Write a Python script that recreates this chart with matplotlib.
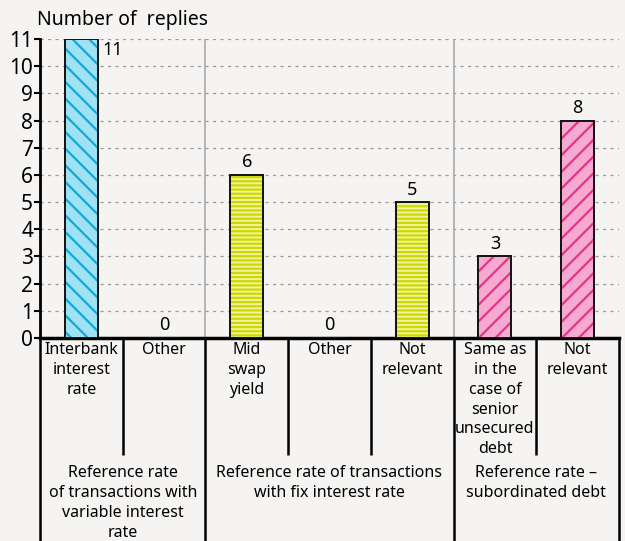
import matplotlib
matplotlib.use("Agg")
import matplotlib.pyplot as plt
from matplotlib.transforms import blended_transform_factory

plt.rcParams['font.family'] = ['Noto Sans', 'DejaVu Sans']

categories = ["Interbank\ninterest\nrate", "Other", "Mid\nswap\nyield", "Other",
              "Not\nrelevant", "Same as\nin the\ncase of\nsenior\nunsecured\ndebt", "Not\nrelevant"]
values = [11, 0, 6, 0, 5, 3, 8]
groups = ["Reference rate\nof transactions with\nvariable interest\nrate",
          "Reference rate of transactions\nwith fix interest rate",
          "Reference rate \u2013\nsubordinated debt"]
group_members = [[0, 1], [2, 3, 4], [5, 6]]
yticks = list(range(0, 12))

fills = ["#9ee2f4", "#9ee2f4", "#eff49e", "#eff49e", "#eff49e", "#f6aad0", "#f6aad0"]
hatch_cols = ["#12a8d8", "#12a8d8", "#cdd900", "#cdd900", "#cdd900", "#e4358b", "#e4358b"]
hatches = ["\\\\", "\\\\", "----", "----", "----", "//", "//"]

bg = "#f5f4f2"
W, H = 625, 541
fig = plt.figure(figsize=(W/100, H/100), dpi=100, facecolor=bg)
ax = fig.add_axes([40/W, 1-338/H, (619-40)/W, (338-39)/H], facecolor=bg)

plt.rcParams['hatch.linewidth'] = 1.6
for i, v in enumerate(values):
    ax.bar(i, v, width=0.4, color=fills[i], edgecolor=hatch_cols[i], hatch=hatches[i],
           linewidth=0, zorder=3)
    ax.bar(i, v, width=0.4, color='none', edgecolor='#111111', linewidth=1.4, zorder=4)

ax.set_xlim(-0.5, len(values)-0.5)
ax.set_ylim(0, 11)
ax.set_yticks(yticks)
ax.set_yticklabels([str(t) for t in yticks], fontsize=15)
ax.tick_params(axis='y', length=4, width=1.5, pad=1)
ax.set_xticks([])
for s in ['top', 'right']:
    ax.spines[s].set_visible(False)
ax.spines['left'].set_linewidth(2)
ax.spines['bottom'].set_linewidth(2.5)
ax.yaxis.grid(True, color='#9a9a9a', linestyle=(0, (2.5, 3.5)), linewidth=0.9)
ax.set_axisbelow(True)

# group separators inside plot
for g in group_members[1:]:
    ax.axvline(g[0]-0.5, color='#aaaaaa', linewidth=1.2, zorder=1)

# value labels
for i, v in enumerate(values):
    if v == 11:
        ax.annotate(str(v), (i+0.2, v), xytext=(3, -8), textcoords='offset points',
                    ha='left', va='center', fontsize=13, zorder=5)
    else:
        ax.annotate(str(v), (i, v), xytext=(0, 9), textcoords='offset points',
                    ha='center', va='center', fontsize=13, zorder=5)

# table below
tr = blended_transform_factory(ax.transData, fig.transFigure)
y_axis = 1-338/H
y_mid = 1-455/H
y_bot = 0.0
group_edges = [g[0]-0.5 for g in group_members] + [len(values)-0.5]
for b in range(len(values)+1):
    xb = b-0.5
    top = y_bot if xb in group_edges else y_mid
    ax.plot([xb, xb], [y_axis, top], transform=tr, color='black', linewidth=1.8,
            clip_on=False, solid_capstyle='butt')

for i, c in enumerate(categories):
    ax.text(i, 1-342/H, c, transform=tr, ha='center', va='top', fontsize=11.5,
            linespacing=1.32)

for g, members in zip(groups, group_members):
    xc = (members[0] + members[-1]) / 2
    ax.text(xc, 1-465/H, g, transform=tr, ha='center', va='top', fontsize=11.5,
            linespacing=1.32)

fig.text(37/W, 1-20/H, "Number of  replies", ha='left', va='center', fontsize=14)

fig.savefig("out.png", dpi=100, facecolor=bg)
